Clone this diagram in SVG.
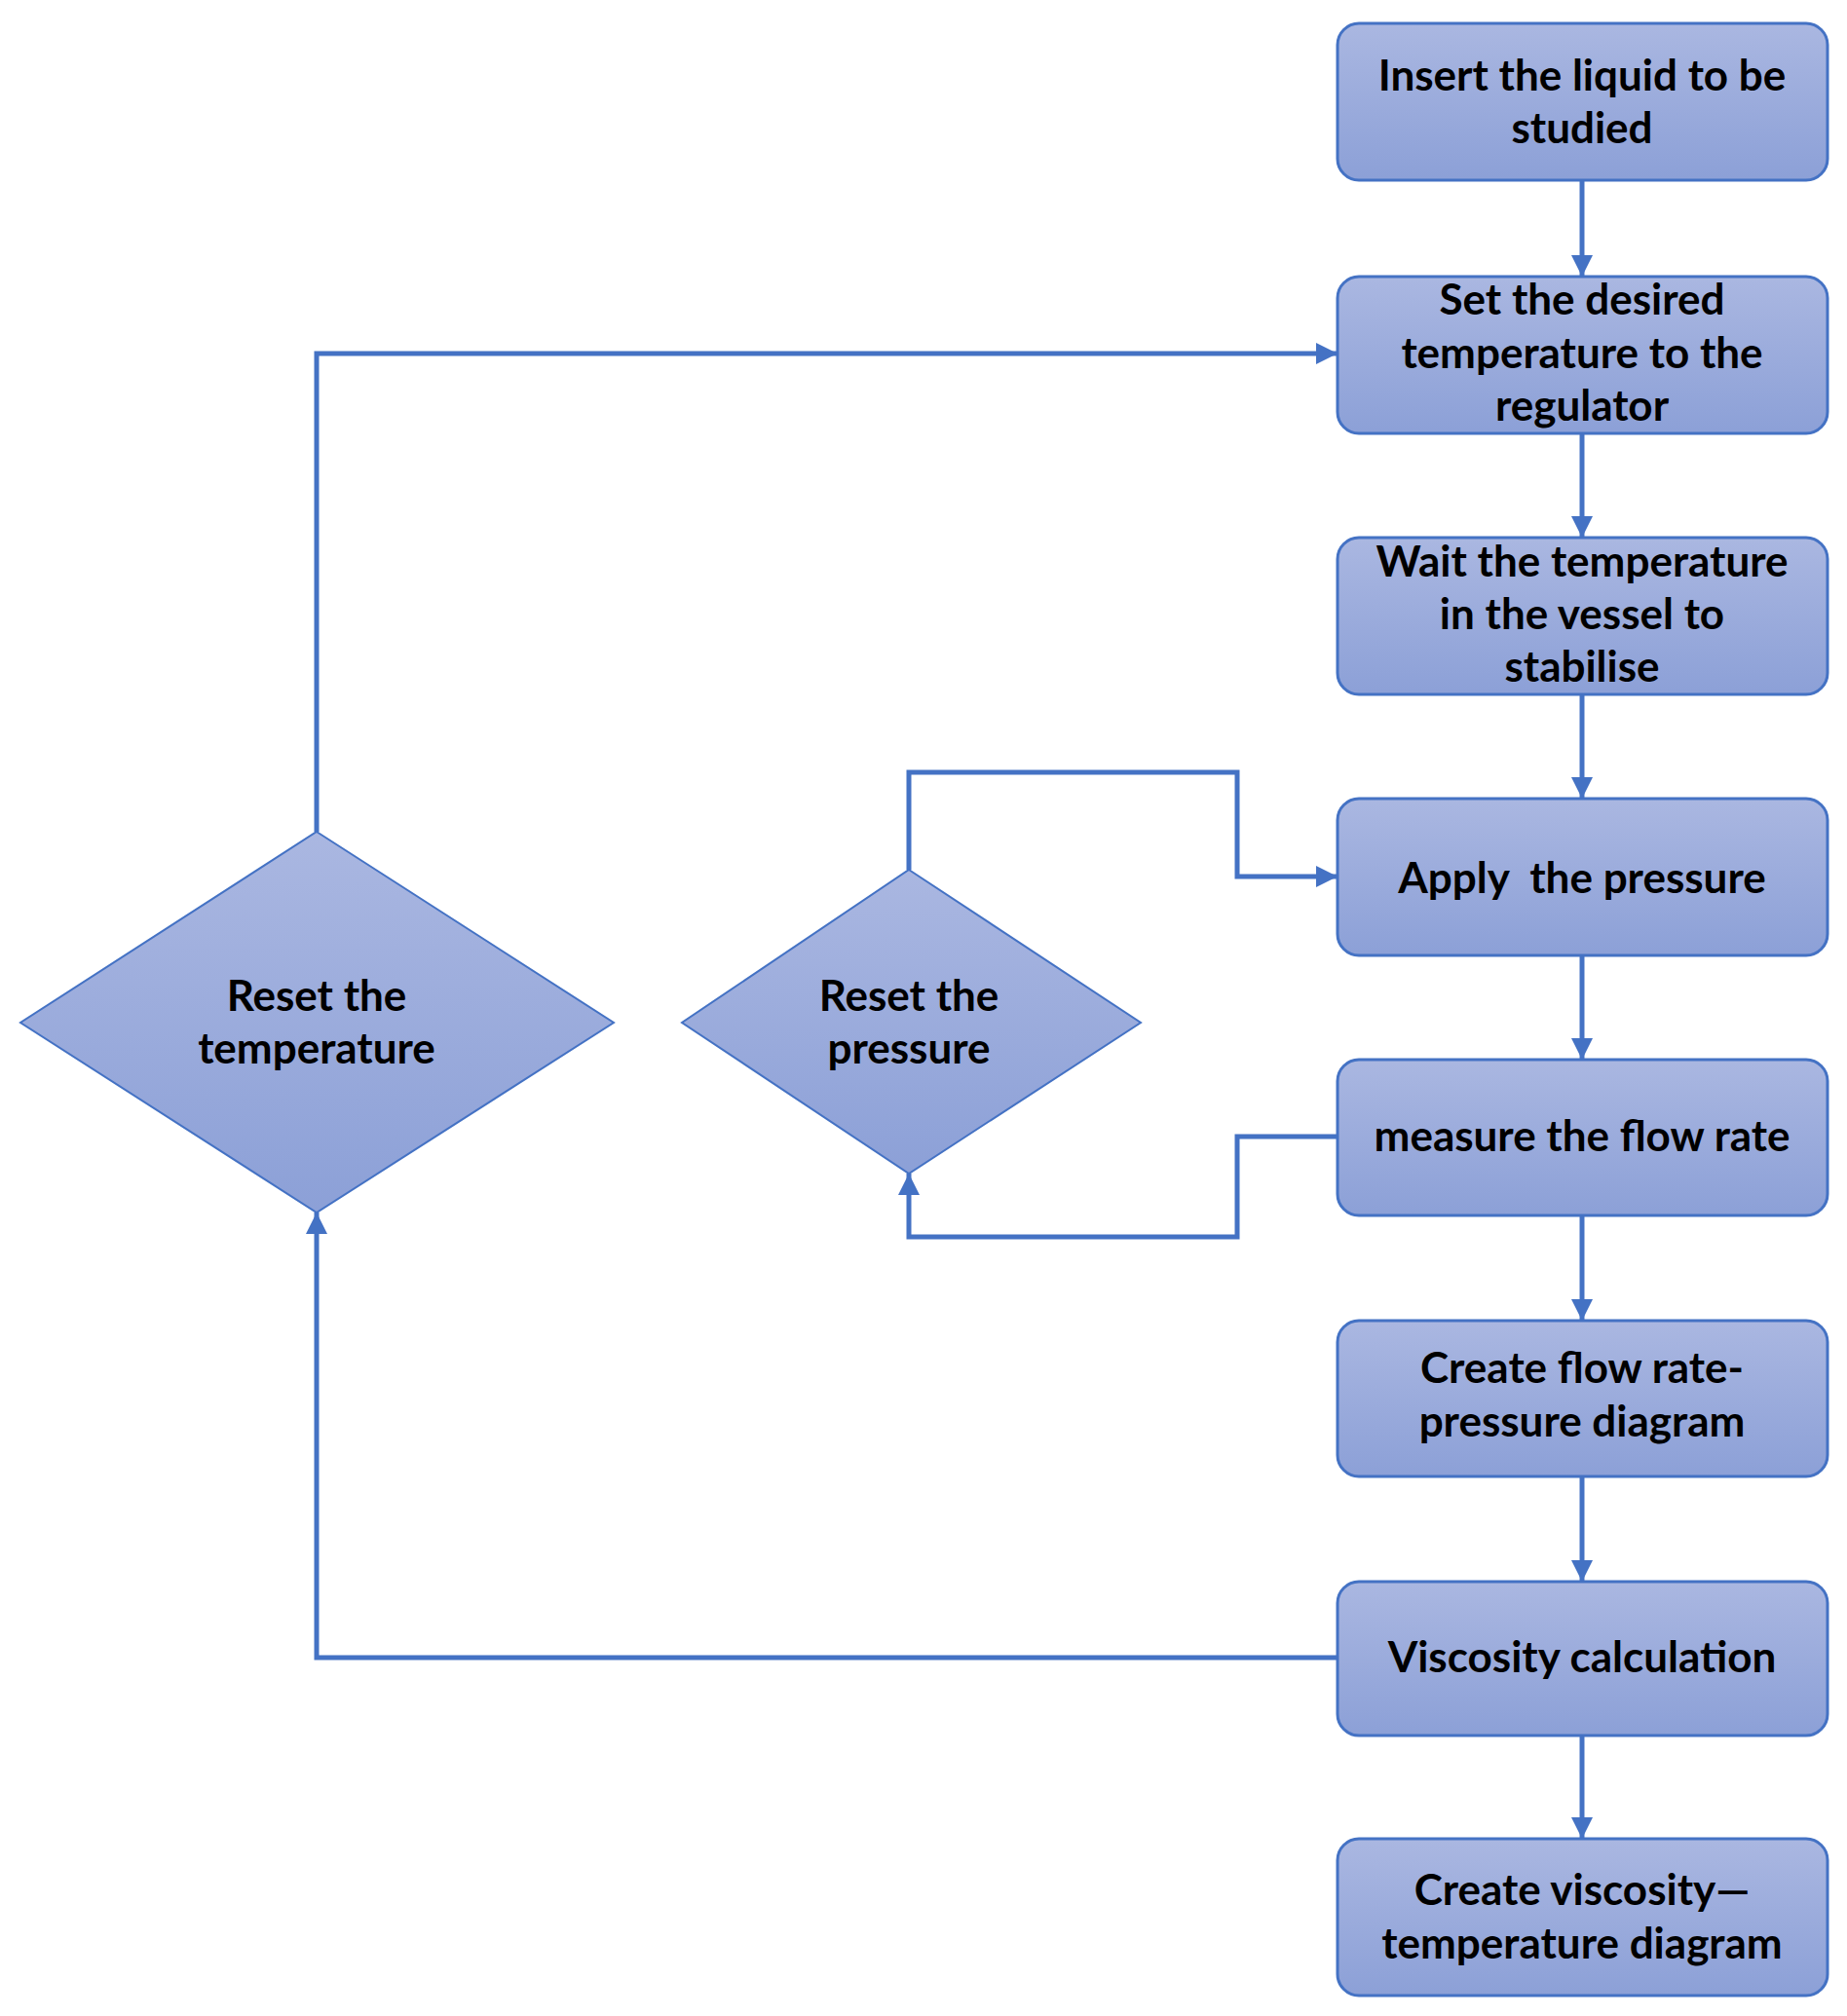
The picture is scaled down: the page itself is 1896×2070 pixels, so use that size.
<svg xmlns="http://www.w3.org/2000/svg" width="1896" height="2070" viewBox="0 0 1896 2070">
<defs>
<linearGradient id="g" x1="0" y1="0" x2="0" y2="1">
<stop offset="0" stop-color="#AAB7E1"/>
<stop offset="1" stop-color="#8CA0D7"/>
</linearGradient>
<marker id="arr" markerUnits="userSpaceOnUse" markerWidth="24" markerHeight="24" viewBox="0 0 24 24" refX="22" refY="12" orient="auto">
<path d="M0,1 L22,12 L0,23 Z" fill="#4472C4"/>
</marker>
<style>
.box{fill:url(#g);stroke:#4472C4;stroke-width:3}
.dia{fill:url(#g);stroke:#4472C4;stroke-width:2}
.t{font-family:Lato,"Open Sans","Liberation Sans",sans-serif;font-weight:bold;font-size:44px;fill:#000;text-anchor:middle;dominant-baseline:central;white-space:pre}
.c{fill:none;stroke:#4472C4;stroke-width:5;marker-end:url(#arr)}
</style>
</defs>
<rect width="1896" height="2070" fill="#fff"/>
<g id="connectors">
<path class="c" d="M1624,185 V284"/>
<path class="c" d="M1624,445 V552"/>
<path class="c" d="M1624,713 V820"/>
<path class="c" d="M1624,981 V1088"/>
<path class="c" d="M1624,1248 V1356"/>
<path class="c" d="M1624,1516 V1624"/>
<path class="c" d="M1624,1782 V1888"/>
<path class="c" d="M325,854 V363 H1373"/>
<path class="c" d="M933,893 V793 H1270 V900 H1373"/>
<path class="c" d="M1373,1167 H1270 V1270 H933 V1205"/>
<path class="c" d="M1373,1702 H325 V1245"/>
</g>
<g id="n1"><rect class="box" x="1373" y="24" width="503" height="161" rx="22"/>
<text class="t" x="1624" y="76">Insert the liquid to be</text><text class="t" x="1624" y="130">studied</text></g>
<g id="n2"><rect class="box" x="1373" y="284" width="503" height="161" rx="22"/>
<text class="t" x="1624" y="306">Set the desired</text><text class="t" x="1624" y="361">temperature to the</text><text class="t" x="1624" y="415">regulator</text></g>
<g id="n3"><rect class="box" x="1373" y="552" width="503" height="161" rx="22"/>
<text class="t" x="1624" y="575">Wait the temperature</text><text class="t" x="1624" y="629">in the vessel to</text><text class="t" x="1624" y="683">stabilise</text></g>
<g id="n4"><rect class="box" x="1373" y="820" width="503" height="161" rx="22"/>
<text class="t" x="1624" y="900">Apply  the pressure</text></g>
<g id="n5"><rect class="box" x="1373" y="1088" width="503" height="160" rx="22"/>
<text class="t" x="1624" y="1165">measure the flow rate</text></g>
<g id="n6"><rect class="box" x="1373" y="1356" width="503" height="160" rx="22"/>
<text class="t" x="1624" y="1403">Create flow rate-</text><text class="t" x="1624" y="1458">pressure diagram</text></g>
<g id="n7"><rect class="box" x="1373" y="1624" width="503" height="158" rx="22"/>
<text class="t" x="1624" y="1700">Viscosity calculation</text></g>
<g id="n8"><rect class="box" x="1373" y="1888" width="503" height="161" rx="22"/>
<text class="t" x="1624" y="1939">Create viscosity—</text><text class="t" x="1624" y="1994">temperature diagram</text></g>
<g id="d1"><polygon class="dia" points="325,854 630,1050 325,1245 21,1050"/>
<text class="t" x="325" y="1021">Reset the</text><text class="t" x="325" y="1075">temperature</text></g>
<g id="d2"><polygon class="dia" points="933,893 1171,1050 933,1205 700,1050"/>
<text class="t" x="933" y="1021">Reset the</text><text class="t" x="933" y="1075">pressure</text></g>
</svg>
